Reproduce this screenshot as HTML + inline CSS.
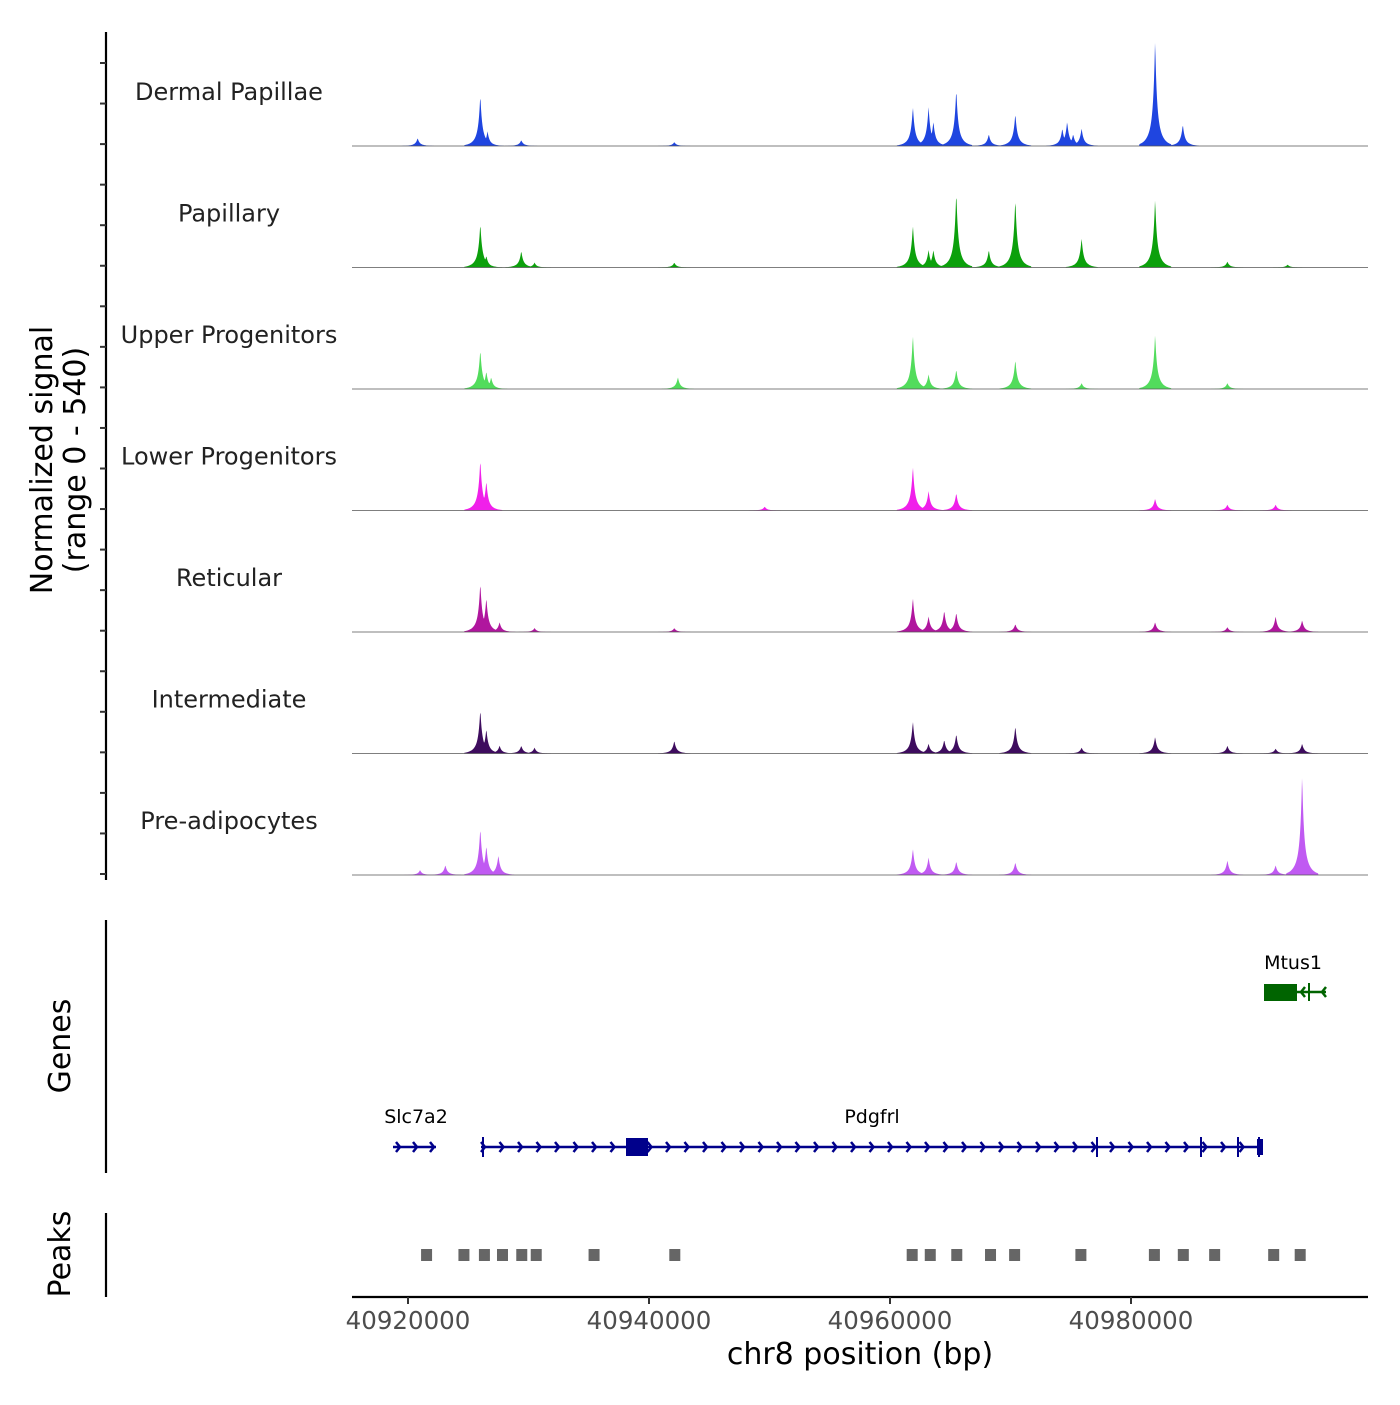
<!DOCTYPE html>
<html><head><meta charset="utf-8"><style>
body{margin:0;background:#fff}
svg text{font-family:"DejaVu Sans","Liberation Sans",sans-serif}
</style></head><body>
<svg id="c" width="1400" height="1400" xmlns="http://www.w3.org/2000/svg"></svg>
<script>
const trackNames=["Dermal Papillae","Papillary","Upper Progenitors","Lower Progenitors","Reticular","Intermediate","Pre-adipocytes"];
const trackColors=["#1f45e0","#0ca00c","#52dc5c","#f020ea","#b0169e","#3e0c5e","#c05af2"];
const peakPos=[
[40920800,40926000,40926600,40929400,40942100,40961900,40963200,40963600,40965500,40968200,40970400,40974300,40974700,40975200,40975900,40982000,40984300],
[40926000,40926500,40929400,40930500,40942100,40961900,40963200,40963600,40965500,40968200,40970400,40975900,40982000,40988000,40993000],
[40926000,40926500,40926900,40942400,40961900,40963200,40965500,40970400,40975900,40982000,40988000],
[40926000,40926500,40949600,40961900,40963200,40965500,40982000,40988000,40992000],
[40926000,40926500,40927600,40930500,40942100,40961900,40963200,40964500,40965500,40970400,40982000,40988000,40992000,40994200],
[40926000,40926500,40927600,40929400,40930500,40942100,40961900,40963200,40964500,40965500,40970400,40975900,40982000,40988000,40992000,40994200],
[40921000,40923100,40926000,40926500,40927500,40961900,40963200,40965500,40970400,40988000,40992000,40993900,40994200]];
const peakVal=[
[40,260,75,30,20,200,200,125,290,60,165,90,125,60,90,540,110],
[225,60,85,25,25,215,90,90,385,90,350,150,350,30,15],
[200,90,60,60,275,75,100,150,30,280,30],
[260,150,20,225,100,90,60,30,30],
[250,175,50,20,20,175,80,110,100,40,50,25,80,60],
[225,125,40,40,30,65,165,50,70,100,140,30,85,40,25,50],
[25,50,240,150,100,135,90,70,65,75,50,100,510]];
const peakBoxes=[40921500,40924600,40926300,40927800,40929400,40930600,40935400,40942100,40961800,40963300,40965500,40968300,40970300,40975800,40981900,40984300,40986900,40991800,40994000];
const xTicks=[40920000,40940000,40960000,40980000];

const S=document.getElementById('c'),NS='http://www.w3.org/2000/svg';
function mk(t,a,p){const e=document.createElementNS(NS,t);for(const k in a)e.setAttribute(k,a[k]);(p||S).appendChild(e);return e;}
const X0=352,X1=1368;
const x=bp=>408+(bp-40920000)*241/20000;
const base0=146,trackH=121.5,maxV=540;
const yv=v=>v/maxV*108;
let ax=mk('g',{});
mk('line',{x1:106,y1:32,x2:106,y2:880,stroke:'#000','stroke-width':2.2},ax);
for(let y=63;y<=880;y+=40.55) mk('line',{x1:100,y1:y,x2:106,y2:y,stroke:'#333','stroke-width':2},ax);
let yt=mk('text',{x:0,y:0,'font-size':30,'text-anchor':'middle',transform:'translate(52,460) rotate(-90)'});yt.textContent='Normalized signal';
let yt2=mk('text',{x:0,y:0,'font-size':30,'text-anchor':'middle',transform:'translate(85,460) rotate(-90)'});yt2.textContent='(range 0 - 540)';
for(let t=0;t<7;t++){
  const b=base0+t*trackH;
  const g=mk('g',{});
  const lb=mk('text',{x:229,y:b-46,'font-size':24,'text-anchor':'middle',fill:'#222'},g);lb.textContent=trackNames[t];
  let d='M'+X0+','+b;
  for(let px=X0;px<=X1;px+=0.5){
    let h=0;
    for(let i=0;i<peakPos[t].length;i++){const dx=Math.abs(px-x(peakPos[t][i]));if(dx<16){const s=yv(peakVal[t][i])*(Math.exp(-dx/1.5)*0.6+Math.exp(-dx/5)*0.4);if(s>h)h=s;}}
    d+=' L'+px+','+(b-h).toFixed(2);
  }
  d+=' L'+X1+','+b+' Z';
  const a=mk('path',{d:d,fill:trackColors[t]},g);
  mk('line',{x1:X0,y1:b,x2:X1,y2:b,stroke:'#555','stroke-width':0.8},g);
}
let ga=mk('g',{});
mk('line',{x1:106,y1:920,x2:106,y2:1173,stroke:'#000','stroke-width':2.2},ga);
let gl=mk('text',{'font-size':30,'text-anchor':'middle',transform:'translate(70,1046) rotate(-90)'},ga);gl.textContent='Genes';
const blue='#00008b',green='#006400';
function chev(cx,cy,dir,col,g){mk('path',{d:`M${cx-4*dir},${cy-5} L${cx},${cy} L${cx-4*dir},${cy+5}`,fill:'none',stroke:col,'stroke-width':2.5},g);}
mk('line',{x1:393,y1:1147,x2:436,y2:1147,stroke:blue,'stroke-width':2.5},ga);
[400,417,434].forEach(c=>chev(c,1147,1,blue,ga));
mk('line',{x1:481,y1:1147,x2:1262,y2:1147,stroke:blue,'stroke-width':2.5},ga);
for(let c=485;c<1262;c+=18.5) chev(c,1147,1,blue,ga);
mk('rect',{x:626,y:1138,width:22,height:18,fill:blue},ga);
[483,1097,1201,1238,1259].forEach(c=>mk('line',{x1:c,y1:1137,x2:c,y2:1157,stroke:blue,'stroke-width':2},ga));
mk('rect',{x:1257,y:1139,width:6,height:16,fill:blue},ga);
mk('text',{x:416,y:1123,'font-size':19,'text-anchor':'middle'},ga).textContent='Slc7a2';
mk('text',{x:872,y:1123,'font-size':19,'text-anchor':'middle'},ga).textContent='Pdgfrl';
mk('line',{x1:1264,y1:992,x2:1326,y2:992,stroke:green,'stroke-width':2.5},ga);
mk('rect',{x:1264,y:984,width:33,height:17,fill:green},ga);
mk('line',{x1:1309,y1:983,x2:1309,y2:1001,stroke:green,'stroke-width':2},ga);
[1301,1322].forEach(c=>chev(c,992,-1,green,ga));
mk('text',{x:1293,y:969,'font-size':19,'text-anchor':'middle'},ga).textContent='Mtus1';
let pk=mk('g',{});
mk('line',{x1:106,y1:1213,x2:106,y2:1297,stroke:'#000','stroke-width':2.2},pk);
let pl=mk('text',{'font-size':30,'text-anchor':'middle',transform:'translate(70,1254) rotate(-90)'},pk);pl.textContent='Peaks';
peakBoxes.forEach(p=>{const r=mk('rect',{x:x(p)-5,y:1249,width:11,height:12,fill:'#666'},pk);});
let xa=mk('g',{});
mk('line',{x1:X0,y1:1297,x2:X1,y2:1297,stroke:'#000','stroke-width':2.2},xa);
xTicks.forEach(v=>{mk('line',{x1:x(v),y1:1297,x2:x(v),y2:1304,stroke:'#333','stroke-width':2},xa);
 const t=mk('text',{x:x(v),y:1329,'font-size':24.5,'text-anchor':'middle',fill:'#4d4d4d'},xa);t.textContent=v;});
let xt=mk('text',{x:860,y:1364,'font-size':30,'text-anchor':'middle'},xa);xt.textContent='chr8 position (bp)';
</script>
</body></html>
